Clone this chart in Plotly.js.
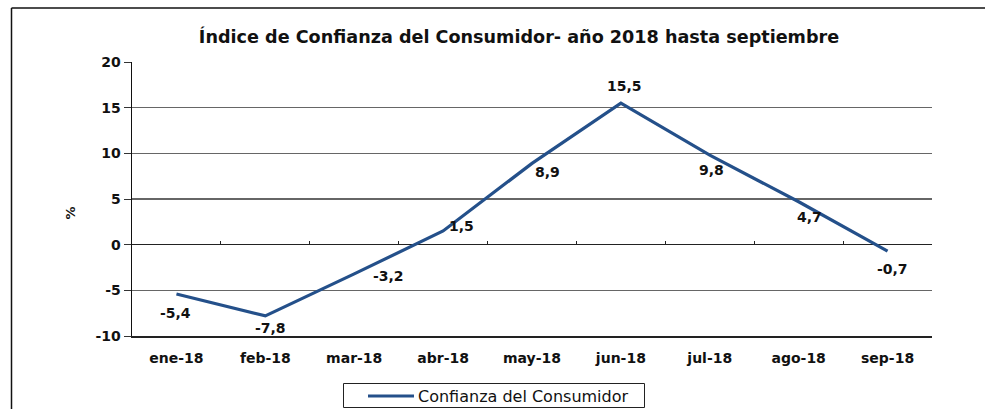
<!DOCTYPE html>
<html>
<head>
<meta charset="utf-8">
<script src="https://cdn.plot.ly/plotly-3.0.1.min.js"></script>
<style>
html,body{margin:0;padding:0;background:#fff;}
#chart{width:985px;height:409px;}
</style>
</head>
<body>
<div id="chart"></div>
<script>
const categories = ["ene-18","feb-18","mar-18","abr-18","may-18","jun-18","jul-18","ago-18","sep-18"];
const values = [-5.4, -7.8, -3.2, 1.5, 8.9, 15.5, 9.8, 4.7, -0.7];
const valueLabels = ["-5,4","-7,8","-3,2","1,5","8,9","15,5","9,8","4,7","-0,7"];
const labelShiftX = [-1, 5, 34, 18, 15, 4, 2, 11, 5];
const labelShiftY = [-19, -12, -2, 5, -9, 17, -15, -15, -18];
const seriesName = "Confianza del Consumidor";
const titleText = "Índice de Confianza del Consumidor- año 2018 hasta septiembre";
const yTicks = [-10, -5, 0, 5, 10, 15, 20];
const yTickText = ["-10", "-5", "0", "5", "10", "15", "20"];

const FONT = "DejaVu Sans, Liberation Sans, Arial, sans-serif";
const LINE_COLOR = "#24508a";
const L = 132, R = 53, T = 62, B = 73, W = 985, H = 409;
const pw = W - L - R, ph = H - T - B;
const px = v => (v - L) / pw;          // pixel x -> paper x
const py = v => (H - B - v) / ph;      // pixel y -> paper y

const boundaries = categories.map((c, i) => i - 0.5).concat([categories.length - 0.5]);

const traces = [{
  type: "scatter",
  mode: "lines",
  x: categories,
  y: values,
  name: seriesName,
  line: {color: LINE_COLOR, width: 3.2},
  hoverinfo: "skip",
  showlegend: false
}, {
  // invisible helper on the overlaid axis that carries the tick marks on the zero line
  type: "scatter",
  mode: "lines",
  x: categories.map((c, i) => i),
  y: values,
  xaxis: "x2",
  opacity: 0,
  showlegend: false,
  hoverinfo: "skip"
}];

const annotations = categories.map((c, i) => ({
  x: c, y: values[i], xref: "x", yref: "y",
  text: "<b>" + valueLabels[i] + "</b>",
  showarrow: false,
  xshift: labelShiftX[i], yshift: labelShiftY[i],
  font: {family: FONT, size: 14, color: "#111"}
}));
annotations.push({
  xref: "paper", yref: "paper",
  x: px(60), y: py(213),
  text: "<b>%</b>", textangle: -90, showarrow: false,
  font: {family: FONT, size: 13, color: "#111"}
});
// legend text
annotations.push({
  xref: "paper", yref: "paper",
  x: px(416), y: py(396), xanchor: "left", yanchor: "middle",
  text: seriesName, showarrow: false,
  font: {family: FONT, size: 16, color: "#111"}
});

const shapes = [
  // outer frame (left and top edges)
  {type: "line", xref: "paper", yref: "paper",
   x0: px(11.5), x1: px(11.5), y0: py(420), y1: py(8),
   line: {color: "#111", width: 1.5}},
  {type: "line", xref: "paper", yref: "paper",
   x0: px(11.5), x1: px(995), y0: py(8), y1: py(8),
   line: {color: "#111", width: 1.5}},
  // legend box and sample
  {type: "rect", xref: "paper", yref: "paper",
   x0: px(343.5), x1: px(644.5), y0: py(407.5), y1: py(383.5),
   line: {color: "#222", width: 1}, fillcolor: "rgba(0,0,0,0)"},
  {type: "line", xref: "paper", yref: "paper",
   x0: px(368), x1: px(414), y0: py(396), y1: py(396),
   line: {color: LINE_COLOR, width: 3.2}}
];

const layout = {
  width: W, height: H,
  margin: {l: L, r: R, t: T, b: B, pad: 0, autoexpand: false},
  paper_bgcolor: "#fff", plot_bgcolor: "#fff",
  showlegend: false,
  title: {
    text: "<b>" + titleText + "</b>",
    xref: "container", yref: "container",
    x: 519 / W, y: 1 - 37 / H, xanchor: "center", yanchor: "middle",
    font: {family: FONT, size: 17.6, color: "#111"}
  },
  xaxis: {
    type: "category",
    range: [-0.5, categories.length - 0.5],
    showgrid: false, zeroline: false,
    showline: true, linecolor: "#222", linewidth: 1.5,
    ticks: "",
    ticklabelstandoff: 9,
    tickfont: {family: FONT, size: 14, color: "#111", weight: "bold"},
    fixedrange: true
  },
  xaxis2: {
    overlaying: "x", anchor: "free", position: 10 / 30,
    range: [-0.5, categories.length - 0.5],
    tickmode: "array", tickvals: boundaries,
    ticks: "inside", ticklen: 4, tickcolor: "#222", tickwidth: 1,
    showticklabels: false, showgrid: false, zeroline: false,
    showline: false, fixedrange: true
  },
  yaxis: {
    range: [-10, 20],
    tickmode: "array", tickvals: yTicks, ticktext: yTickText,
    showgrid: true, gridcolor: "#666", gridwidth: 1.2,
    zeroline: true, zerolinecolor: "#222", zerolinewidth: 1.5,
    showline: true, linecolor: "#111", linewidth: 1.5,
    ticks: "outside", ticklen: 7, tickcolor: "#333",
    tickfont: {family: FONT, size: 14, color: "#111", weight: "bold"},
    fixedrange: true
  },
  annotations: annotations,
  shapes: shapes
};

Plotly.newPlot("chart", traces, layout, {displayModeBar: false, staticPlot: true});
</script>
</body>
</html>
